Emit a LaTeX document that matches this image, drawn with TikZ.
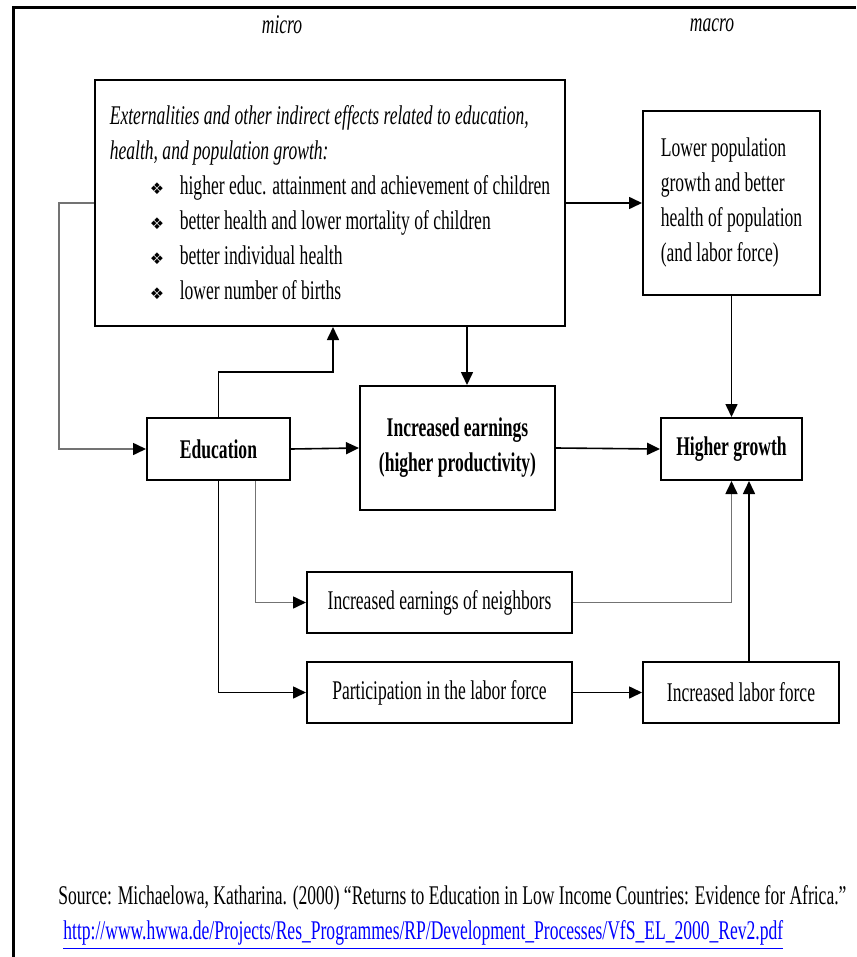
\documentclass[tikz,border=0pt]{standalone}
\usepackage{fontspec}
\setmainfont{Liberation Serif}[FakeStretch=0.65]
\newfontfamily\dingfont{DejaVu Sans}
\usetikzlibrary{arrows.meta}
\newcommand{\dia}{\makebox[15pt][l]{\dingfont\fontsize{8}{8}\selectfont ❖}}

\begin{document}
\begin{tikzpicture}[x=0.5pt,y=-0.5pt,
	box/.style={draw,line width=1pt,inner sep=0pt,font=\fontsize{13.5}{17.5}\selectfont},
	bold/.style={font=\fontsize{13.5}{17.5}\selectfont\bfseries},
	plain/.style={inner sep=0pt,font=\fontsize{13.5}{17.5}\selectfont},
	arr/.style={line width=0.8pt,-{Triangle[length=6.5pt,width=6pt,color=black]}},
	pale/.style={draw=black!55}]
	\useasboundingbox (0,0) rectangle (856,957);
	% frame
	\draw[line width=1.5pt] (13,957) -- (13,8) -- (856,8);
	
	% headings
	\node[plain,font=\fontsize{13.5}{17.5}\selectfont\itshape] (micro) at (282,25) {micro};
	\node[plain,font=\fontsize{13.5}{17.5}\selectfont\itshape] (macro) at (712,25) {macro};
	
	% micro boxes
	\node[box,minimum width=235pt,minimum height=123pt,align=left] (ext) at (330,203) {%
		\textit{Externalities and other indirect effects related to education,}\\
		\textit{health, and population growth:}\\
		\hspace*{20pt}\dia higher educ. attainment and achievement of children\\
		\hspace*{20pt}\dia better health and lower mortality of children\\
		\hspace*{20pt}\dia better individual health\\
		\hspace*{20pt}\dia lower number of births};
	\node[box,bold,minimum width=71.5pt,minimum height=31pt] (edu) at (218.5,449) {Education};
	\node[box,bold,minimum width=97.5pt,minimum height=62pt,align=center] (earn) at (457.5,448) {Increased earnings\\(higher productivity)};
	\node[box,minimum width=132.5pt,minimum height=30.5pt] (neigh) at (439.5,602.5) {Increased earnings of neighbors};
	\node[box,minimum width=132.5pt,minimum height=30.5pt] (part) at (439.5,692.5) {Participation in the labor force};
	
	% macro boxes
	\node[box,minimum width=88.5pt,minimum height=92pt,align=left] (lowpop) at (731.5,203) {Lower population\\growth and better\\health of population\\(and labor force)};
	\node[box,bold,minimum width=70.5pt,minimum height=31pt] (hg) at (731.5,449) {Higher growth};
	\node[box,minimum width=98pt,minimum height=30.5pt] (labf) at (741,692.5) {Increased labor force};
	
	% arrows
	\coordinate (ebend) at (333,372);
	\coordinate (lf) at ([xshift=4pt]labf.north);
	\coordinate (ed) at ([xshift=18.5pt]edu.south);
	\coordinate (et) at ([xshift=4.75pt]earn.north);
	\draw[arr] (ext.east) -- (lowpop.west);
	\draw[arr,pale] (ext.west) -- ++(-35,0) |- (edu.west);
	\draw[arr] (edu.north) |- (ebend) -- (ebend |- ext.south);
	\draw[arr] (et |- ext.south) -- (et);
	\draw[arr] (edu.east) -- (earn.west);
	\draw[arr] (earn.east) -- (hg.west);
	\draw[arr] (lowpop.south) -- (hg.north);
	\draw[arr,pale] (ed) |- (neigh.west);
	\draw[arr] (edu.south) |- (part.west);
	\draw[arr,pale] (neigh.east) -| (hg.south);
	\draw[arr] (part.east) -- (labf.west);
	\draw[arr] (lf) -- (lf |- hg.south);
	
	% source
	\node[plain,anchor=west] (src) at (58,898) {Source: Michaelowa, Katharina. (2000) “Returns to Education in Low Income Countries: Evidence for Africa.”};
	\node[plain,anchor=west,text=blue] (url) at (63,935) {\underline{http://www.hwwa.de/Projects/Res\_Programmes/RP/Development\_Processes/VfS\_EL\_2000\_Rev2.pdf}};
\end{tikzpicture}
\end{document}
